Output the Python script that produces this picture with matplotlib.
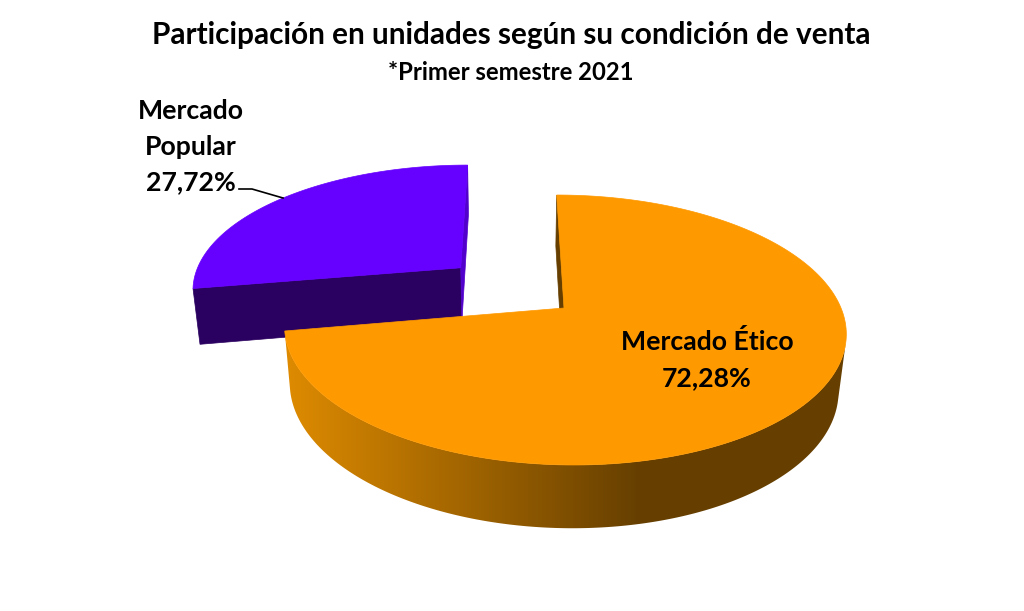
import numpy as np
import matplotlib
matplotlib.use("Agg")
import matplotlib.pyplot as plt
from matplotlib.colors import LinearSegmentedColormap
from matplotlib.patches import Polygon

# --- data ---
categories = ["Mercado Ético", "Mercado Popular"]
values = [72.28, 27.72]
value_labels = ["72,28%", "27,72%"]
title = "Participación en unidades según su condición de venta"
subtitle = "*Primer semestre 2021"

# --- style / projection ---
TOP = {"etico": "#FF9900", "popular": "#6600FF"}
SIDE_POPULAR = "#2A0060"
SLIVER_POPULAR = "#5200CC"
SIDE_DARK = "#663F00"
SIDE_LIGHT = "#DE8B00"
X0, Y0 = 512.0, 308.0
RX, SY = 277.0, 131.4
P, Q, H = 0.163, 0.023, 58.0
CENTER_U = 52.0 / RX
EXPLODE = 0.50
GRAD_X0, GRAD_X1 = 285, 640

def project(u, v, z):
    w = 1 + P * v + Q * z
    return X0 + RX * u / w, Y0 + (-SY * v + H * z) / w

def face(ax, pts, color, z=1):
    xs, ys = zip(*pts)
    ax.fill(xs, ys, facecolor=color, edgecolor=color, lw=0.5, zorder=z)

def area(pts):
    a = np.array(pts)
    x, y = a[:, 0], a[:, 1]
    return 0.5 * np.sum(x * np.roll(y, -1) - np.roll(x, -1) * y)

def slice3d(ax, cu, cv, a_start, a_end, top, side, cut_start, cut_end, z):
    """a_start > a_end: clockwise sweep in degrees."""
    th = np.radians(np.linspace(a_start, a_end, 360))
    us, vs = cu + np.cos(th), cv + np.sin(th)
    apex_top = project(cu, cv, 0)
    apex_bot = project(cu, cv, 1)
    # outer wall: only the part that faces the viewer
    vis = []
    for i in range(len(th) - 1):
        q = [project(us[i], vs[i], 0), project(us[i + 1], vs[i + 1], 0),
             project(us[i + 1], vs[i + 1], 1), project(us[i], vs[i], 1)]
        if area(q) < 0:
            vis.append(i)
    if vis:
        idx = list(range(vis[0], vis[-1] + 2))
        wall = [project(us[i], vs[i], 0) for i in idx] + [project(us[i], vs[i], 1) for i in idx[::-1]]
        if side is None:
            cmap = LinearSegmentedColormap.from_list("wall", [SIDE_LIGHT, SIDE_DARK])
            xs = np.arange(0, 1024)
            grad = np.clip((xs - GRAD_X0) / (GRAD_X1 - GRAD_X0), 0, 1)[None, :]
            im = ax.imshow(grad, cmap=cmap, extent=(0, 1024, 611, 0), aspect="auto", zorder=z, vmin=0, vmax=1)
            patch = Polygon(wall, closed=True, transform=ax.transData, fc="none", ec="none")
            ax.add_patch(patch)
            im.set_clip_path(patch)
        else:
            face(ax, wall, side, z)
    # cut faces
    for k, sign, cut in ((0, -1, cut_start), (-1, 1, cut_end)):
        q = [apex_top, project(us[k], vs[k], 0), project(us[k], vs[k], 1), apex_bot]
        if sign * area(q) > 0:
            face(ax, q, cut, z)
    # top
    rim = [project(u, v, 0) for u, v in zip(us, vs)]
    face(ax, [apex_top] + rim, top, z + 0.5)

fig = plt.figure(figsize=(10.24, 6.11), dpi=100, facecolor="white")
ax = fig.add_axes([0, 0, 1, 1])
ax.axis("off")

sweep = [v / sum(values) * 360 for v in values]
a0 = 90.0
a1 = a0 - sweep[0]
a2 = a1 - sweep[1]
mid = np.radians((a1 + a2) / 2)

cu_p = CENTER_U + EXPLODE * np.cos(mid)
cv_p = EXPLODE * np.sin(mid)
slice3d(ax, cu_p, cv_p, a1, a2, TOP["popular"], SIDE_POPULAR, SIDE_POPULAR, SLIVER_POPULAR, 1)
slice3d(ax, CENTER_U, 0.0, a0, a1, TOP["etico"], None, SIDE_DARK, SIDE_DARK, 3)

ax.set_xlim(0, 1024)
ax.set_ylim(611, 0)

FONT = "Lato"
LABEL = dict(ha="center", va="center", fontsize=19.2, fontweight="bold", family=FONT, color="black", zorder=6)
ax.text(511, 35, title, ha="center", va="center", fontsize=21.4, fontweight="bold", family=FONT, color="black", zorder=6)
ax.text(511, 72, subtitle, ha="center", va="center", fontsize=17.2, fontweight="bold", family=FONT, color="black", zorder=6)
ax.text(707, 342, categories[0], **LABEL)
ax.text(707, 378, value_labels[0], **LABEL)
first, second = categories[1].split(" ")
ax.text(191, 111, first, **LABEL)
ax.text(191, 147, second, **LABEL)
ax.text(191, 182, value_labels[1], **LABEL)
ax.plot([239, 252, 283], [189, 189, 198], color="black", lw=1.2, zorder=5)

fig.savefig("out.png", dpi=100, facecolor="white")
